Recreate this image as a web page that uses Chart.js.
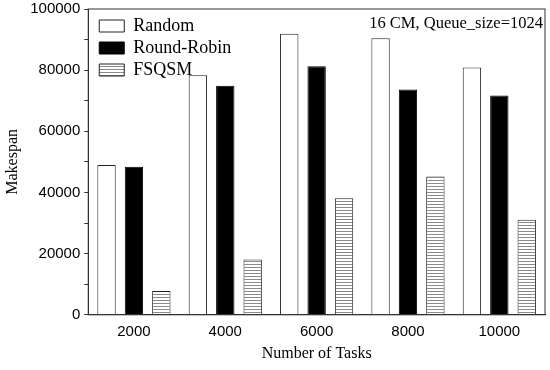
<!DOCTYPE html>
<html>
<head>
<meta charset="utf-8">
<script src="https://cdn.jsdelivr.net/npm/chart.js@4"></script>
<style>
  html, body { margin: 0; padding: 0; background: #fff; }
  #wrap { width: 550px; height: 370px; }
</style>
</head>
<body>
<div id="wrap"><canvas id="barChart" width="550" height="370"></canvas></div>
<script>
// data
const tasks = ['2000', '4000', '6000', '8000', '10000'];
const randomMakespan = [49000, 78300, 91900, 90400, 80900];
const roundRobinMakespan = [48400, 74900, 81300, 73700, 71700];
const fsqsmMakespan = [7800, 18100, 38100, 45200, 31100];
const noteText = '16 CM, Queue_size=1024';

// horizontal stripes for FSQSM
function stripePattern() {
    const c = document.createElement('canvas');
    c.width = 8;
    c.height = 3;
    const g = c.getContext('2d');
    g.fillStyle = '#fff';
    g.fillRect(0, 0, 8, 3);
    g.fillStyle = '#8a8a8a';
    g.fillRect(0, 0, 8, 1);
    return g.createPattern(c, 'repeat');
}

const serif = "'Liberation Serif', 'Times New Roman', serif";
const sans = "'Liberation Sans', Arial, sans-serif";

// frame around the plot and the note in the corner
const framePlugin = {
    id: 'frame',
    afterLayout(chart) {
        // push the legend a bit into the plot
        const lg = chart.legend;
        if (lg) {
            lg.left += 7;
            lg.top += 13;
        }
    },
    afterDraw(chart) {
        const a = chart.chartArea;
        const ctx = chart.ctx;
        ctx.save();
        ctx.strokeStyle = '#333';
        ctx.lineWidth = 1;
        ctx.strokeRect(a.left, a.top, a.right - a.left, a.bottom - a.top);
        ctx.fillStyle = '#000';
        ctx.font = '16.5px ' + serif;
        ctx.textAlign = 'right';
        ctx.textBaseline = 'middle';
        ctx.fillText(noteText, a.right - 2, a.top + 15);
        ctx.restore();
    }
};

new Chart(document.getElementById('barChart'), {
    type: 'bar',
    data: {
        labels: tasks,
        datasets: [{
            label: 'Random',
            data: randomMakespan,
            backgroundColor: '#fff',
            borderColor: '#222',
            borderWidth: 1
        }, {
            label: 'Round-Robin',
            data: roundRobinMakespan,
            backgroundColor: '#000',
            borderColor: '#000',
            borderWidth: 1
        }, {
            label: 'FSQSM',
            data: fsqsmMakespan,
            backgroundColor: stripePattern(),
            borderColor: '#222',
            borderWidth: 1
        }]
    },
    options: {
        responsive: false,
        animation: false,
        categoryPercentage: 0.9,
        barPercentage: 0.67,
        layout: {
            padding: { left: 3, right: 5, top: 9, bottom: 7 }
        },
        plugins: {
            legend: {
                position: 'chartArea',
                align: 'start',
                labels: {
                    boxWidth: 25,
                    boxHeight: 12,
                    padding: 4,
                    color: '#000',
                    font: { family: serif, size: 18 }
                }
            },
            tooltip: { enabled: false }
        },
        scales: {
            x: {
                grid: { display: false },
                border: { display: true, color: '#333' },
                ticks: {
                    color: '#000',
                    padding: 0,
                    font: { family: sans, size: 15 }
                },
                title: {
                    display: true,
                    text: 'Number of Tasks',
                    color: '#000',
                    padding: { top: 3, bottom: 0 },
                    font: { family: serif, size: 16 }
                }
            },
            y: {
                min: 0,
                max: 100000,
                afterFit: s => { s.paddingTop = 0; },
                grid: {
                    drawOnChartArea: false,
                    tickLength: 4,
                    color: '#333'
                },
                border: { display: true, color: '#333' },
                ticks: {
                    stepSize: 10000,
                    color: '#000',
                    padding: 4,
                    font: { family: sans, size: 15 },
                    callback: v => (v % 20000 === 0 ? String(v) : '')
                },
                title: {
                    display: true,
                    text: 'Makespan',
                    color: '#000',
                    padding: { top: 0, bottom: 4 },
                    font: { family: serif, size: 16 }
                }
            }
        }
    },
    plugins: [framePlugin]
});
</script>
</body>
</html>
